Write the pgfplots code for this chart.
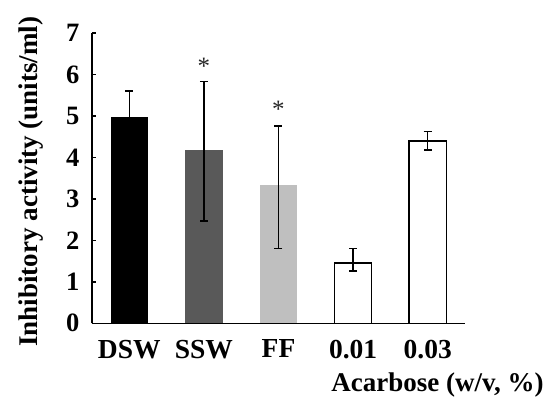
\documentclass[border=0pt]{standalone}
\usepackage{fontspec}
\setmainfont{Liberation Serif}
\usepackage{pgfplots}
\pgfplotsset{compat=1.18}
\definecolor{dgray}{HTML}{595959}
\definecolor{lgray}{HTML}{BFBFBF}
\pgfplotsset{
  errb/.style={
    error bars/y dir=both, error bars/y explicit,
    error bars/error bar style={line width=1.4pt, black, solid},
    error bars/error mark options={rotate=90, mark size=4pt, line width=1.4pt, black},
  },
}
\begin{document}
\begin{tikzpicture}
\path[use as bounding box] (-92pt,-75.7pt) rectangle (462pt,323.3pt);
\begin{axis}[
  at={(0,0)}, anchor=south west,
  width=373pt, height=290.3pt, scale only axis,
  xmin=-0.5, xmax=4.5, ymin=0, ymax=7,
  axis x line*=bottom, axis y line*=left,
  axis line style={line width=1.4pt, -},
  xtick={0,...,4}, xticklabels={DSW,SSW,FF,0.01,0.03},
  ytick={0,...,7},
  x tick style={draw=none},
  y tick style={line width=1.4pt, black},
  tick align=inside, major tick length=4pt,
  tick label style={font=\bfseries\fontsize{26.5}{30}\selectfont},
  yticklabel style={xshift=-9pt},
  xticklabel style={yshift=-13pt, font=\bfseries\fontsize{27.5}{30}\selectfont},
  /pgf/number format/assume math mode=true,
  ylabel={Inhibitory activity (units/ml)},
  ylabel style={font=\bfseries\fontsize{27}{30}\selectfont, at={(axis description cs:-0.1635,0.488)}, anchor=center},
  xlabel={Acarbose (w/v, \%)},
  xlabel style={font=\bfseries\fontsize{27}{30}\selectfont, at={(axis description cs:1.22,-0.2125)}, anchor=east},
  clip=false,
]
\addplot[ybar, bar shift=0pt, bar width=0.5, fill=black, draw=none, errb] coordinates {(0,4.97) +- (0,0.63)};
\addplot[ybar, bar shift=0pt, bar width=0.5, fill=dgray, draw=none, errb] coordinates {(1,4.18) += (0,1.65) -= (0,1.71)};
\addplot[ybar, bar shift=0pt, bar width=0.5, fill=lgray, draw=none, errb] coordinates {(2,3.33) += (0,1.43) -= (0,1.52)};
\addplot[ybar, bar shift=0pt, bar width=0.5, fill=white, draw=black, line width=1.4pt, errb] coordinates {(3,1.45) += (0,0.36) -= (0,0.19)};
\addplot[ybar, bar shift=0pt, bar width=0.5, fill=white, draw=black, line width=1.4pt, errb] coordinates {(4,4.40) += (0,0.22) -= (0,0.22)};
\addplot[draw=none, mark=none, nodes near coords={*}, nodes near coords style={font=\fontsize{25}{30}\selectfont, anchor=north, inner sep=0pt, text=black!85}] coordinates {(1,6.41) (2,5.36)};
\end{axis}
\end{tikzpicture}
\end{document}
